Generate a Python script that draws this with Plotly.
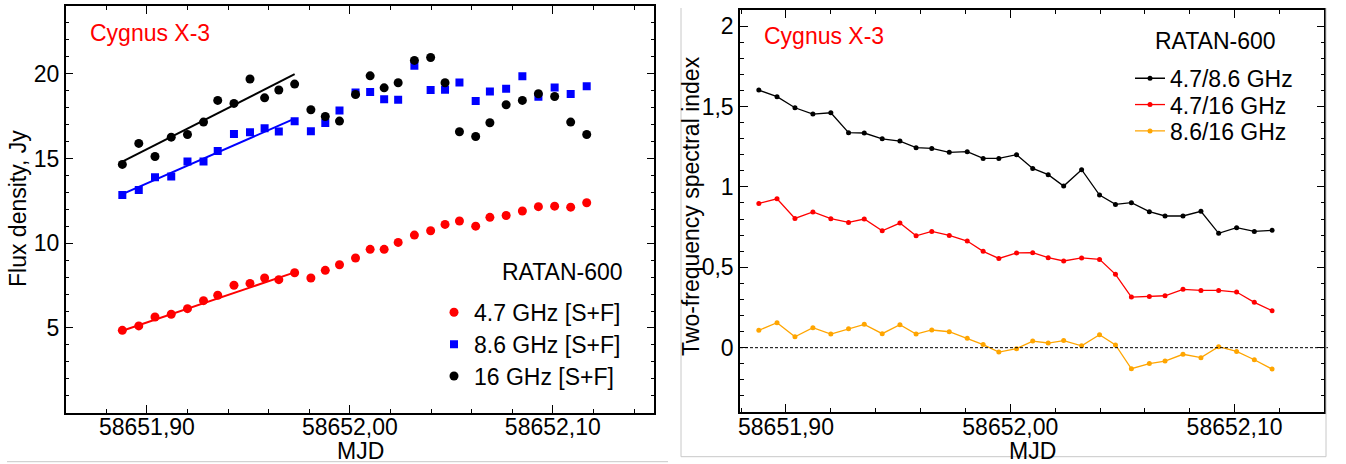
import plotly.graph_objects as go

W, H = 1346, 464

# ---------------- data ----------------
mjd = [58651.8879, 58651.8960, 58651.9040, 58651.9120, 58651.9200, 58651.9279,
       58651.9349, 58651.9429, 58651.9508, 58651.9580, 58651.9650, 58651.9728,
       58651.9808, 58651.9879, 58651.9949, 58652.0028, 58652.0100, 58652.0169,
       58652.0238, 58652.0318, 58652.0398, 58652.0469, 58652.0540, 58652.0620,
       58652.0690, 58652.0770, 58652.0850, 58652.0929, 58652.1009, 58652.1088,
       58652.1167]

flux_4_7 = [4.86, 5.12, 5.65, 5.81, 6.14, 6.61, 6.93, 7.52, 7.63, 7.95, 7.85, 8.26,
            7.95, 8.40, 8.73, 9.13, 9.64, 9.64, 10.05, 10.48, 10.74, 11.11, 11.31,
            11.01, 11.53, 11.64, 11.90, 12.16, 12.19, 12.13, 12.39]
flux_8_6 = [12.84, 13.14, 13.90, 13.94, 14.82, 14.82, 15.44, 16.45, 16.55, 16.79, 16.59,
            17.20, 16.61, 17.09, 17.84, 18.90, 18.92, 18.49, 18.47, 20.47, 19.04, 19.06,
            19.49, 18.39, 18.96, 19.11, 19.86, 18.64, 19.19, 18.80, 19.27]
flux_16 = [14.65, 15.89, 15.12, 16.26, 16.42, 17.15, 18.43, 18.25, 19.69, 18.58, 19.04,
           19.39, 17.88, 17.48, 17.21, 18.78, 19.88, 19.17, 19.47, 20.79, 20.96, 19.47,
           16.58, 16.30, 17.11, 18.17, 18.43, 18.82, 18.66, 17.15, 16.42]

# linear fits over the rising part (first 12 points): values at start / end
fit_n = 12
fit_4_7 = [4.84, 8.28]
fit_8_6 = [12.90, 17.35]
fit_16 = [14.81, 19.98]

alpha_47_86 = [1.602, 1.561, 1.492, 1.453, 1.461, 1.337, 1.335, 1.299, 1.285, 1.244,
               1.239, 1.215, 1.219, 1.177, 1.177, 1.200, 1.115, 1.076, 1.005, 1.107,
               0.949, 0.891, 0.902, 0.846, 0.819, 0.819, 0.848, 0.711, 0.746, 0.723, 0.730]
alpha_47_16 = [0.897, 0.926, 0.804, 0.844, 0.802, 0.779, 0.800, 0.727, 0.775, 0.696,
               0.723, 0.698, 0.663, 0.599, 0.555, 0.589, 0.591, 0.560, 0.539, 0.558,
               0.549, 0.456, 0.315, 0.319, 0.323, 0.363, 0.356, 0.356, 0.346, 0.282, 0.230]
alpha_86_16 = [0.108, 0.155, 0.068, 0.124, 0.085, 0.118, 0.145, 0.087, 0.143, 0.085,
               0.110, 0.099, 0.058, 0.019, -0.027, -0.006, 0.041, 0.029, 0.044, 0.012,
               0.081, 0.017, -0.131, -0.099, -0.083, -0.041, -0.062, 0.006, -0.023,
               -0.075, -0.133]

x_tickvals = [58651.90, 58652.00, 58652.10]
x_ticktext = ["58651,90", "58652,00", "58652,10"]
flux_tickvals = [5, 10, 15, 20]
flux_ticktext = ["5", "10", "15", "20"]
alpha_tickvals = [0, 0.5, 1, 1.5, 2]
alpha_ticktext = ["0", "0,5", "1", "1,5", "2"]

FONT = "Liberation Sans, Arial, Helvetica, sans-serif"
FS = 23
RED, BLUE, BLACK, ORANGE = "#ff0000", "#0000ff", "#000000", "#ffa500"


def px_x(p):
    return p / W


def px_y(p):
    return (H - p) / H


fig = go.Figure()

# ---------------- left panel ----------------
fit_x = [mjd[0], mjd[fit_n - 1]]
for yy, col in [(fit_4_7, RED), (fit_8_6, BLUE), (fit_16, BLACK)]:
    fig.add_trace(go.Scatter(x=fit_x, y=yy, mode="lines", line=dict(color=col, width=2),
                             showlegend=False, hoverinfo="skip", xaxis="x", yaxis="y"))

left_series = [(flux_4_7, RED, "circle", 9, "4.7 GHz [S+F]", "legend", 312.3),
               (flux_8_6, BLUE, "square", 8, "8.6 GHz [S+F]", "legend2", 344.3),
               (flux_16, BLACK, "circle", 9, "16 GHz [S+F]", "legend3", 376.0)]
for yy, col, sym, sz, nm, lg, _ in left_series:
    fig.add_trace(go.Scatter(x=mjd, y=yy, mode="markers", name=nm,
                             marker=dict(color=col, size=sz, symbol=sym),
                             xaxis="x", yaxis="y", legend=lg))

# ---------------- right panel ----------------
right_series = [(alpha_47_86, BLACK, "4.7/8.6 GHz", "legend4", 78.3),
                (alpha_47_16, RED, "4.7/16 GHz", "legend5", 104.6),
                (alpha_86_16, ORANGE, "8.6/16 GHz", "legend6", 131.0)]
for yy, col, nm, lg, _ in right_series:
    fig.add_trace(go.Scatter(x=mjd, y=yy, mode="lines+markers", name=nm,
                             line=dict(color=col, width=1.3),
                             marker=dict(color=col, size=5),
                             xaxis="x2", yaxis="y2", legend=lg))

axis_common = dict(showline=True, linecolor="black", linewidth=1.5, mirror="allticks",
                   ticks="inside", ticklen=8, tickwidth=1.2, tickcolor="black",
                   showgrid=False, zeroline=False, automargin=False,
                   tickfont=dict(family=FONT, size=FS, color="black"),
                   tickmode="array")

legends = {}
for _, _, _, _, _, lg, yc in left_series:
    legends[lg] = dict(x=px_x(434), y=px_y(yc), xanchor="left", yanchor="middle",
                       bgcolor="rgba(0,0,0,0)", font=dict(family=FONT, size=FS),
                       itemwidth=30)
for _, _, _, lg, yc in right_series:
    legends[lg] = dict(x=px_x(1130), y=px_y(yc), xanchor="left", yanchor="middle",
                       bgcolor="rgba(0,0,0,0)", font=dict(family=FONT, size=FS),
                       itemwidth=30)

fig.update_layout(
    width=W, height=H,
    margin=dict(l=0, r=0, t=0, b=0, autoexpand=False),
    paper_bgcolor="white", plot_bgcolor="white",
    font=dict(family=FONT, size=FS, color="black"),
    xaxis=dict(domain=[px_x(65.7), px_x(654.3)], range=[58651.86, 58652.15],
               tickvals=x_tickvals, ticktext=x_ticktext, anchor="y", ticklabelstandoff=-7,
               minor=dict(tickmode="linear", tick0=58651.90, dtick=0.02, ticks="inside",
                          ticklen=4, tickcolor="black", tickwidth=1.2),
               **axis_common),
    yaxis=dict(domain=[px_y(412.7), px_y(6)], range=[0, 24],
               tickvals=flux_tickvals, ticktext=flux_ticktext, anchor="x",
               minor=dict(tickmode="linear", tick0=0, dtick=1, ticks="inside",
                          ticklen=4, tickcolor="black", tickwidth=1.2),
               **axis_common),
    xaxis2=dict(domain=[px_x(740), px_x(1324.3)], range=[58651.8795, 58652.14],
                tickvals=x_tickvals, ticktext=x_ticktext, anchor="y2", ticklabelstandoff=-6,
                minor=dict(tickmode="linear", tick0=58651.90, dtick=0.02, ticks="inside",
                           ticklen=4, tickcolor="black", tickwidth=1.2),
                **axis_common),
    yaxis2=dict(domain=[px_y(412), px_y(10)], range=[-0.4, 2.1],
                tickvals=alpha_tickvals, ticktext=alpha_ticktext, anchor="x2",
                minor=dict(tickmode="linear", tick0=0, dtick=0.1, ticks="inside",
                           ticklen=4, tickcolor="black", tickwidth=1.2),
                **axis_common),
    showlegend=True,
    **legends,
)

annos = [
    dict(text="Cygnus X-3", x=px_x(87.5), y=px_y(33.3), xanchor="left", yanchor="middle",
         font=dict(color=RED, size=FS, family=FONT)),
    dict(text="Cygnus X-3", x=px_x(762), y=px_y(35.7), xanchor="left", yanchor="middle",
         font=dict(color=RED, size=FS, family=FONT)),
    dict(text="RATAN-600", x=px_x(625), y=px_y(272.3), xanchor="right", yanchor="middle",
         font=dict(color="black", size=FS, family=FONT)),
    dict(text="RATAN-600", x=px_x(1153.3), y=px_y(40.7), xanchor="left", yanchor="middle",
         font=dict(color="black", size=FS, family=FONT)),
    # axis titles
    dict(text="MJD", x=px_x(360), y=px_y(451), xanchor="center", yanchor="middle",
         font=dict(color="black", size=FS, family=FONT)),
    dict(text="MJD", x=px_x(1032), y=px_y(451), xanchor="center", yanchor="middle",
         font=dict(color="black", size=FS, family=FONT)),
    dict(text="Flux density, Jy", x=px_x(18), y=px_y(209), xanchor="center", yanchor="middle",
         textangle=-90, font=dict(color="black", size=FS, family=FONT)),
    dict(text="Two-frequency spectral index", x=px_x(691), y=px_y(206), xanchor="center",
         yanchor="middle", textangle=-90, font=dict(color="black", size=FS, family=FONT)),
]
for a in annos:
    fig.add_annotation(xref="paper", yref="paper", showarrow=False, **a)

# zero reference line in right panel
fig.add_shape(type="line", xref="paper", yref="y2", x0=px_x(740), x1=px_x(1330), y0=0, y1=0,
              line=dict(color="black", width=1, dash="3px,2px"))

# light gray image borders of the original composite
gray = dict(color="#c8c8c8", width=1)
fig.add_shape(type="line", xref="paper", yref="paper", x0=px_x(7), x1=px_x(668),
              y0=px_y(461.7), y1=px_y(461.7), line=gray)
fig.add_shape(type="line", xref="paper", yref="paper", x0=px_x(681), x1=px_x(681),
              y0=px_y(8), y1=px_y(456.7), line=gray)
fig.add_shape(type="line", xref="paper", yref="paper", x0=px_x(1326), x1=px_x(1326),
              y0=px_y(8), y1=px_y(456.7), line=gray)
fig.add_shape(type="line", xref="paper", yref="paper", x0=px_x(681), x1=px_x(1326),
              y0=px_y(456.7), y1=px_y(456.7), line=gray)

fig.write_html("out.html", config={"displayModeBar": False},
               post_script="document.body.style.margin='0';document.body.style.overflow='hidden';")
